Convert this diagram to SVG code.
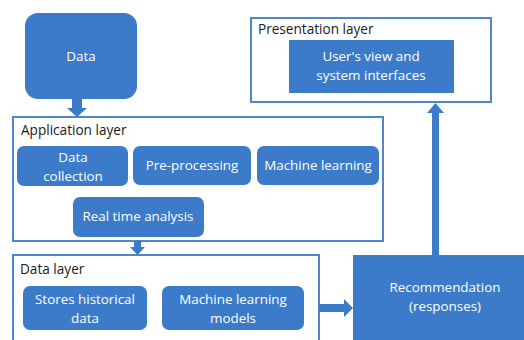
<svg xmlns="http://www.w3.org/2000/svg" width="524" height="340" viewBox="0 0 524 340">
  <style>
    .layer { fill: #ffffff; stroke: #4f86cc; stroke-width: 2; }
    .node { fill: #3b7bc9; }
    .wt { font-family: "Open Sans", "Noto Sans", sans-serif; font-size: 13.4px; fill: #ffffff; text-anchor: middle; }
    .lt { font-family: "Open Sans", "Noto Sans", sans-serif; font-size: 13.6px; fill: #1a1a1a; }
    .arrow { fill: #3b7bc9; }
  </style>
  <rect width="524" height="340" fill="#ffffff"/>

  <g id="data">
    <rect class="node" x="25" y="13" width="112" height="86" rx="13"/>
    <text class="wt" x="81" y="61">Data</text>
  </g>

  <g id="presentation-layer">
    <rect class="layer" x="251" y="18" width="240" height="84"/>
    <text class="lt" x="258" y="34">Presentation layer</text>
  </g>
  <g id="user-view">
    <rect class="node" x="289" y="40" width="165" height="53"/>
    <text class="wt" x="371" y="61">User's view and</text>
    <text class="wt" x="371" y="80">system interfaces</text>
  </g>

  <g id="application-layer">
    <rect class="layer" x="13" y="117" width="370" height="124"/>
    <text class="lt" x="21" y="135">Application layer</text>
  </g>
  <g id="data-collection">
    <rect class="node" x="17" y="146" width="111" height="40" rx="7"/>
    <text class="wt" x="73" y="162">Data</text>
    <text class="wt" x="73" y="181">collection</text>
  </g>
  <g id="pre-processing">
    <rect class="node" x="133" y="146" width="118" height="39" rx="7"/>
    <text class="wt" x="192" y="170">Pre-processing</text>
  </g>
  <g id="machine-learning">
    <rect class="node" x="257" y="146" width="122" height="39" rx="7"/>
    <text class="wt" x="318" y="170">Machine learning</text>
  </g>
  <g id="real-time-analysis">
    <rect class="node" x="73" y="197" width="131" height="40" rx="7"/>
    <text class="wt" x="138" y="221">Real time analysis</text>
  </g>

  <g id="data-layer">
    <rect class="layer" x="13" y="255" width="306" height="100"/>
    <text class="lt" x="20" y="274">Data layer</text>
  </g>
  <g id="historical-data">
    <rect class="node" x="23" y="286" width="124" height="44" rx="7"/>
    <text class="wt" x="85" y="304">Stores historical</text>
    <text class="wt" x="85" y="323">data</text>
  </g>
  <g id="ml-models">
    <rect class="node" x="162" y="286" width="142" height="44" rx="7"/>
    <text class="wt" x="233" y="304">Machine learning</text>
    <text class="wt" x="233" y="323">models</text>
  </g>

  <g id="recommendation">
    <rect class="node" x="353" y="255" width="175" height="90"/>
    <text class="wt" x="445" y="292">Recommendation</text>
    <text class="wt" x="445" y="311">(responses)</text>
  </g>

  <g id="connectors">
    <!-- Data to application layer -->
    <polygon class="arrow" points="72,99 82,99 82,108 87,108 77,117 67,108 72,108"/>
    <!-- application layer to data layer -->
    <polygon class="arrow" points="134,241 141,241 141,247 145,247 137.5,255 130,247 134,247"/>
    <!-- data layer to recommendation -->
    <polygon class="arrow" points="319,304 344,304 344,299 353,308 344,317 344,312 319,312"/>
    <!-- recommendation to presentation layer -->
    <polygon class="arrow" points="432,255 432,113 427,113 435.5,103 444,113 439,113 439,255"/>
  </g>
</svg>
